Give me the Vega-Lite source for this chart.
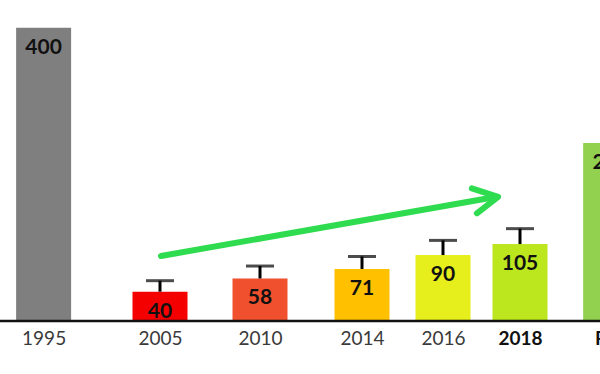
{
  "$schema": "https://vega.github.io/schema/vega-lite/v6.json",
  "autosize": {"type": "none"},
  "padding": {"left": 0, "top": 0, "right": 0, "bottom": 53},
  "width": 600,
  "height": 321,
  "background": "white",
  "config": {
    "view": {"stroke": null},
    "axisX": {"domain": false, "ticks": false, "grid": false, "labelFont": "Lato", "labelFontSize": 19, "labelColor": "#3a3a3a", "labelPadding": 8, "labelFlush": false, "labelOverlap": false, "labelBound": false, "title": null}
  },
  "data": {
    "values": [
      {"year": 1995, "label": "1995", "value": 400, "upper": null},
      {"year": 2005, "label": "2005", "value": 40, "upper": 55},
      {"year": 2010, "label": "2010", "value": 58, "upper": 75},
      {"year": 2014, "label": "2014", "value": 71, "upper": 88},
      {"year": 2016, "label": "2016", "value": 90, "upper": 110},
      {"year": 2018, "label": "2018", "value": 105, "upper": 126},
      {"year": 2030, "label": "Ref.", "value": 243, "upper": null}
    ]
  },
  "layer": [
    {
      "mark": {"type": "bar", "width": 55, "clip": true},
      "encoding": {
        "x": {
          "field": "year", "type": "quantitative", "title": null,
          "scale": {"domain": [1995, 2005, 2010, 2014, 2016, 2018, 2030], "range": [40, 160, 260, 362, 443, 520, 613], "zero": false, "nice": false},
          "axis": {
            "values": [1995, 2005, 2010, 2014, 2016, 2018, 2030],
            "labelExpr": "datum.value == 2030 ? 'Ref.' : format(datum.value, 'd')",
            "labelFontWeight": {"condition": {"test": "datum.value >= 2018", "value": "bold"}, "value": "normal"},
            "labelColor": {"condition": {"test": "datum.value >= 2018", "value": "#111111"}, "value": "#3a3a3a"}
          }
        },
        "y": {
          "field": "value", "type": "quantitative", "title": null,
          "scale": {"domain": [0, 438], "nice": false, "zero": true},
          "axis": null
        },
        "color": {
          "field": "label", "type": "nominal", "legend": null,
          "scale": {
            "domain": ["1995", "2005", "2010", "2014", "2016", "2018", "Ref."],
            "range": ["#7f7f7f", "#f40000", "#f0502d", "#ffc000", "#e6ee1c", "#bce61e", "#92d050"]
          }
        }
      }
    },
    {
      "mark": {"type": "rule", "color": "black", "strokeWidth": 3},
      "encoding": {
        "x": {"field": "year", "type": "quantitative", "title": null},
        "y": {"field": "value", "type": "quantitative", "axis": null},
        "y2": {"field": "upper"}
      }
    },
    {
      "mark": {"type": "tick", "orient": "horizontal", "color": "black", "size": 28, "thickness": 3},
      "encoding": {
        "x": {"field": "year", "type": "quantitative", "title": null},
        "y": {"field": "upper", "type": "quantitative", "axis": null}
      }
    },
    {
      "mark": {"type": "text", "font": "Lato", "fontSize": 21, "fontWeight": "bold", "color": "#111111", "baseline": "middle", "dy": 20, "clip": true},
      "encoding": {
        "x": {"field": "year", "type": "quantitative", "title": null},
        "y": {"field": "value", "type": "quantitative", "axis": null},
        "text": {"field": "value", "type": "quantitative"}
      }
    },
    {
      "data": {"values": [{"base": 0}]},
      "mark": {"type": "rule", "color": "#111111", "strokeWidth": 2.5},
      "encoding": {
        "y": {"field": "base", "type": "quantitative", "axis": null}
      }
    },
    {
      "data": {
        "values": [
          {"seg": "shaft", "ord": 1, "year": 2005.05, "value": 88.7},
          {"seg": "shaft", "ord": 2, "year": 2017.4, "value": 169.5},
          {"seg": "head", "ord": 1, "year": 2016.75, "value": 181},
          {"seg": "head", "ord": 2, "year": 2017.43, "value": 169.5},
          {"seg": "head", "ord": 3, "year": 2016.88, "value": 147}
        ]
      },
      "mark": {"type": "line", "color": "#2fdc50", "strokeWidth": 6, "strokeCap": "round", "strokeJoin": "round"},
      "encoding": {
        "x": {"field": "year", "type": "quantitative", "title": null},
        "y": {"field": "value", "type": "quantitative", "axis": null},
        "detail": {"field": "seg"},
        "order": {"field": "ord", "type": "quantitative"}
      }
    }
  ]
}
